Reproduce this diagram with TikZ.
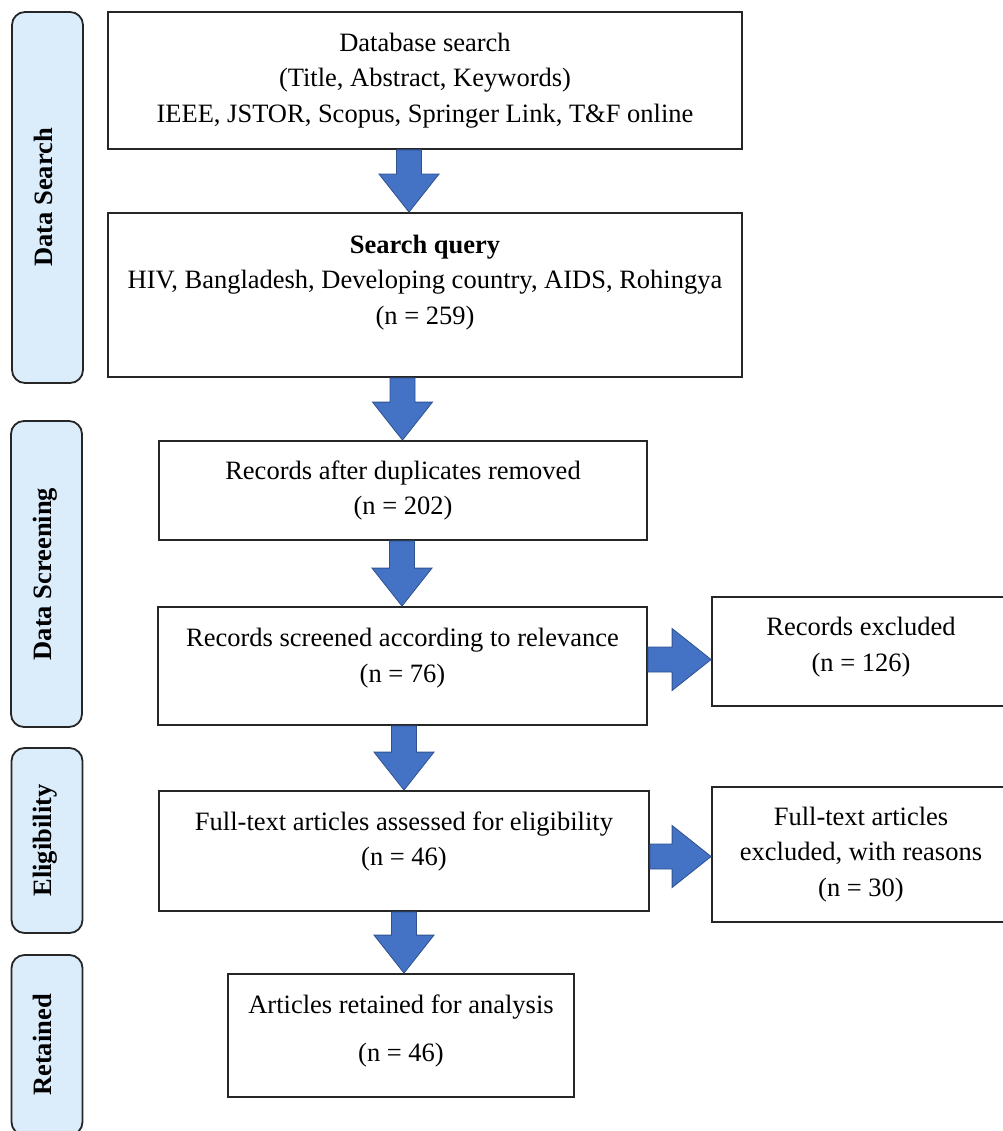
\documentclass[tikz,border=0pt]{standalone}
\usepackage{fontspec}
\setmainfont{Liberation Serif}
\usetikzlibrary{calc}

\definecolor{phasefill}{RGB}{219,236,251}
\definecolor{arrowblue}{RGB}{68,114,196}
\definecolor{arrowedge}{RGB}{47,82,143}

% extra depth under the last line, pushes the text up in its box
\newcommand{\dropdepth}[1]{\rule[-#1]{0pt}{#1}}

% block arrow from the bottom of #1 down to the top of #2, centred at x = #3
\newcommand{\blockdown}[3]{%
  \filldraw[blockarrow] let \p1=(#1.south), \p2=(#2.north) in
    ({#3pt-12.5pt},\y1) -- ({#3pt+12.5pt},\y1) -- ({#3pt+12.5pt},\y2+38pt)
    -- ({#3pt+30pt},\y2+38pt) -- (#3pt,\y2) -- ({#3pt-30pt},\y2+38pt)
    -- ({#3pt-12.5pt},\y2+38pt) -- cycle;}

% block arrow from the right of #1 to the left of #2, centred at y = #3
\newcommand{\blockright}[3]{%
  \filldraw[blockarrow] let \p1=(#1.east), \p2=(#2.west) in
    (\x1,{-#3pt+12.5pt}) -- (\x2-39pt,{-#3pt+12.5pt}) -- (\x2-39pt,{-#3pt+31pt})
    -- (\x2,-#3pt) -- (\x2-39pt,{-#3pt-31pt}) -- (\x2-39pt,{-#3pt-12.5pt})
    -- (\x1,{-#3pt-12.5pt}) -- cycle;}

\tikzset{
  stage/.style={draw=black!85, line width=1.8pt, fill=white, inner sep=0pt,
    align=center, font=\fontsize{26.5}{35.5}\selectfont,
    execute at begin node={\rule{0pt}{31pt}}},
  phase/.style={draw=black!85, line width=1.8pt, fill=phasefill, rounded corners=13pt,
    rotate=90, inner sep=0pt, minimum height=71pt, text height=17pt, text depth=8pt,
    font=\fontsize{26.5}{30}\selectfont\bfseries},
  blockarrow/.style={fill=arrowblue, draw=arrowedge, line width=0.8pt},
}

\begin{document}
\begin{tikzpicture}[x=1pt,y=-1pt]
    \useasboundingbox (0,0) rectangle (1002,1131);
    % phases on the left
    \node[phase, minimum width=371pt] (phSearch) at (47.5,197.5) {Data Search};
    \node[phase, minimum width=306pt] (phScreen) at (46.5,574) {Data Screening};
    \node[phase, minimum width=185pt] (phElig) at (47,840.5) {Eligibility};
    \node[phase, minimum width=180pt] (phKept) at (47,1045) {Retained};
    % main column
    \node[stage, minimum width=634pt, minimum height=137pt] (dbsearch) at (425,80.5)
        {Database search\\(Title, Abstract, Keywords)\\IEEE, JSTOR, Scopus, Springer Link, T\&F online};
    \node[stage, minimum width=634pt, minimum height=164pt] (query) at (425,295)
        {\textbf{Search query}\\HIV, Bangladesh, Developing country, AIDS, Rohingya\\(n = 259)\dropdepth{31pt}};
    \node[stage, minimum width=488pt, minimum height=99pt] (dedup) at (403,490.5)
        {Records after duplicates removed\\(n = 202)};
    \node[stage, minimum width=489pt, minimum height=118pt] (screened) at (402.5,666)
        {Records screened according to relevance\\(n = 76)\dropdepth{21pt}};
    \node[stage, minimum width=490pt, minimum height=120pt] (full) at (404,851)
        {Full-text articles assessed for eligibility\\(n = 46)\dropdepth{25pt}};
    \node[stage, minimum width=346pt, minimum height=123pt] (retained) at (401,1035.5)
        {Articles retained for analysis\\[13pt](n = 46)\dropdepth{15pt}};
    % exclusions on the right
    \node[stage, minimum width=298pt, minimum height=109pt] (excl) at (861,651.5)
        {Records excluded\\(n = 126)\dropdepth{14pt}};
    \node[stage, minimum width=298pt, minimum height=135pt] (fullexcl) at (861,854.5)
        {Full-text articles\\excluded, with reasons\\(n = 30)};
    % arrows
    \blockdown{dbsearch}{query}{409}
    \blockdown{query}{dedup}{402.5}
    \blockdown{dedup}{screened}{402}
    \blockdown{screened}{full}{404}
    \blockdown{full}{retained}{404}
    \blockright{screened}{excl}{659.5}
    \blockright{full}{fullexcl}{856.5}
\end{tikzpicture}
\end{document}
